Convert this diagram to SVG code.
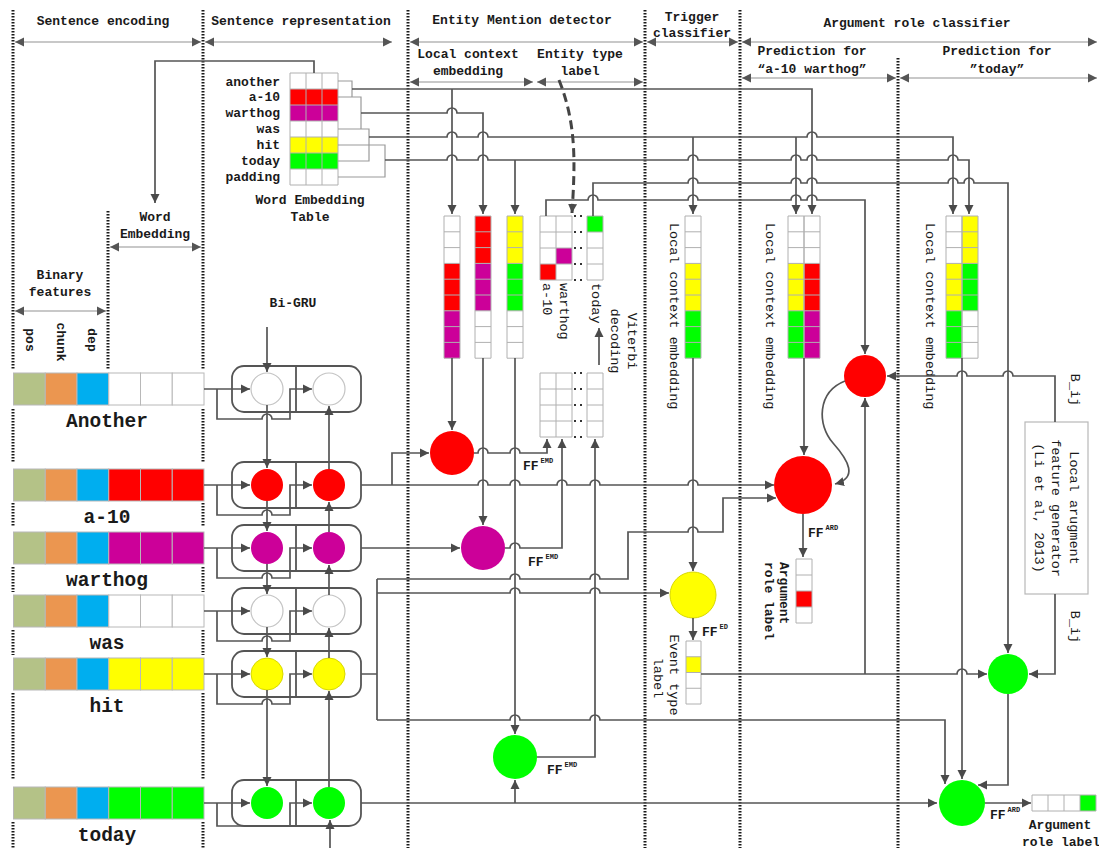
<svg xmlns="http://www.w3.org/2000/svg" width="1099" height="848" viewBox="0 0 1099 848">
<defs>
  <marker id="ah" markerUnits="userSpaceOnUse" markerWidth="10" markerHeight="10" refX="9" refY="5" orient="auto">
    <path d="M0,0.5 L9,5 L0,9.5 Z" fill="#4a4a4a"/>
  </marker>
  <marker id="hh" markerUnits="userSpaceOnUse" markerWidth="10" markerHeight="10" refX="9" refY="5" orient="auto-start-reverse">
    <path d="M0,0.5 L9,5 L0,9.5 Z" fill="#555"/>
  </marker>
  <!-- 9-row column grid, 16 wide -->
  <path id="g9" d="M0,0h16v142.2h-16z M0,15.8h16 M0,31.6h16 M0,47.4h16 M0,63.2h16 M0,79h16 M0,94.8h16 M0,110.6h16 M0,126.4h16"/>
  <!-- 4x2 lattice grid + separate column -->
  <path id="g4" d="M0,0h32v64h-32z M16,0v64 M0,16h32 M0,32h32 M0,48h32 M47,0h16v64h-16z M47,16h16 M47,32h16 M47,48h16"/>
</defs>
<style>
  .t{font-family:"Liberation Mono","DejaVu Sans Mono",monospace;fill:#1a1a1a}
  .h{font-size:13px;font-weight:bold;text-anchor:middle}
  .tl{font-size:13px;font-weight:bold;text-anchor:end}
  .w{font-size:19.5px;font-weight:bold;text-anchor:middle}
  .r{font-size:13.5px;dominant-baseline:central}
  .rb{font-size:13px;font-weight:bold;dominant-baseline:central}
  .m{text-anchor:middle}
  .ff{font-size:13px;font-weight:bold}
  .c{stroke:#555;stroke-width:1.7;fill:none}
  .a{marker-end:url(#ah)}
  .dash{stroke:#444;stroke-width:3;stroke-dasharray:9 5;fill:none}
  .br{stroke:#9a9a9a;stroke-width:1.2;fill:none}
  .dv{stroke:#1a1a1a;stroke-width:3;stroke-dasharray:1.5 1.5;fill:none}
  .hd{stroke:#c8c8c8;stroke-width:2;marker-start:url(#hh);marker-end:url(#hh)}
  .cell{stroke:#b8b8b8;stroke-width:1}
  .grid{stroke:#b0b0b0;stroke-width:1;fill:none}
  .dots{stroke:#333;stroke-width:2;stroke-dasharray:2 4}
  .gru{fill:none;stroke:#555;stroke-width:1.8}
  .wc{fill:#fff;stroke:#c4c4c4;stroke-width:1.2}
</style>

<rect width="1099" height="848" fill="#fff"/>

<!-- section dividers -->
<g id="dividers">
  <path class="dv" d="M13,10V370 M203,10V370 M108,211V370 M408,10V848 M645,10V848 M740,10V848 M898,58V848"/>
  <path class="dv" d="M13,409V463 M203,409V463 M13,503V527 M203,503V527 M13,567V592 M203,567V592 M13,630V655 M203,630V655 M13,693V780 M203,693V780 M13,822V848 M203,822V848"/>
</g>

<!-- section headers -->
<g id="headers">
  <text class="t h" x="103" y="25">Sentence encoding</text>
  <text class="t h" x="301" y="25">Sentence representation</text>
  <text class="t h" x="522" y="24">Entity Mention detector</text>
  <text class="t h" x="692" y="21">Trigger</text>
  <text class="t h" x="692" y="37">classifier</text>
  <text class="t h" x="917" y="27">Argument role classifier</text>
  <text class="t h" x="468" y="58">Local context</text>
  <text class="t h" x="468" y="75">embedding</text>
  <text class="t h" x="580" y="58">Entity type</text>
  <text class="t h" x="580" y="75">label</text>
  <text class="t h" x="812" y="55">Prediction for</text>
  <text class="t h" x="812" y="73">“a-10 warthog”</text>
  <text class="t h" x="997" y="55">Prediction for</text>
  <text class="t h" x="997" y="73">”today”</text>
  <text class="t h" x="155" y="221">Word</text>
  <text class="t h" x="155" y="238">Embedding</text>
  <text class="t h" x="60" y="279">Binary</text>
  <text class="t h" x="60" y="296">features</text>
  <path class="hd" d="M15,42H201"/>
  <path class="hd" d="M205,42H392"/>
  <path class="hd" d="M410,42H643"/>
  <path class="hd" d="M647,42H738"/>
  <path class="hd" d="M742,42H1097"/>
  <path class="hd" d="M410,82H533"/>
  <path class="hd" d="M537,82H643"/>
  <path class="hd" d="M742,78H896"/>
  <path class="hd" d="M900,78H1097"/>
  <path class="hd" d="M110,247H201"/>
  <path class="hd" d="M15,311H106"/>
  <text class="t rb m" transform="translate(29,340) rotate(90)">pos</text>
  <text class="t rb m" transform="translate(60,342) rotate(90)">chunk</text>
  <text class="t rb m" transform="translate(91,340) rotate(90)">dep</text>
</g>

<!-- word embedding table -->
<g id="embedding-table">
  <rect x="290" y="89" width="48" height="16" fill="#ff0000"/>
  <rect x="290" y="105" width="48" height="16" fill="#cc0099"/>
  <rect x="290" y="137" width="48" height="16" fill="#ffff00"/>
  <rect x="290" y="153" width="48" height="16" fill="#00ff00"/>
  <path class="grid" d="M290,73h48v112h-48z M306,73v112 M322,73v112 M290,89h48 M290,105h48 M290,121h48 M290,137h48 M290,153h48 M290,169h48"/>
  <text class="t tl" x="280" y="86">another</text>
  <text class="t tl" x="280" y="101">a-10</text>
  <text class="t tl" x="280" y="117">warthog</text>
  <text class="t tl" x="280" y="133">was</text>
  <text class="t tl" x="280" y="149">hit</text>
  <text class="t tl" x="280" y="165">today</text>
  <text class="t tl" x="280" y="181">padding</text>
  <text class="t h" x="310" y="204">Word Embedding</text>
  <text class="t h" x="310" y="221">Table</text>
  <path class="br" d="M338,81H352V97H338 M338,97H361V129H338 M338,129H369V161H338 M338,145H385V177H338"/>
</g>

<!-- word feature rows -->
<g id="row-another">
  <rect class="cell" x="13.5" y="373" width="31.75" height="32" fill="#b4c287"/>
  <rect class="cell" x="45.25" y="373" width="31.75" height="32" fill="#eb9650"/>
  <rect class="cell" x="77" y="373" width="31.75" height="32" fill="#00aeef"/>
  <rect class="cell" x="108.75" y="373" width="31.75" height="32" fill="#fff"/>
  <rect class="cell" x="140.5" y="373" width="31.75" height="32" fill="#fff"/>
  <rect class="cell" x="172.25" y="373" width="31.75" height="32" fill="#fff"/>
  <text class="t w" x="107" y="427">Another</text>
</g>
<g id="row-a10">
  <rect class="cell" x="13.5" y="469" width="31.75" height="32" fill="#b4c287"/>
  <rect class="cell" x="45.25" y="469" width="31.75" height="32" fill="#eb9650"/>
  <rect class="cell" x="77" y="469" width="31.75" height="32" fill="#00aeef"/>
  <rect class="cell" x="108.75" y="469" width="31.75" height="32" fill="#ff0000"/>
  <rect class="cell" x="140.5" y="469" width="31.75" height="32" fill="#ff0000"/>
  <rect class="cell" x="172.25" y="469" width="31.75" height="32" fill="#ff0000"/>
  <text class="t w" x="107" y="523">a-10</text>
</g>
<g id="row-warthog">
  <rect class="cell" x="13.5" y="532" width="31.75" height="32" fill="#b4c287"/>
  <rect class="cell" x="45.25" y="532" width="31.75" height="32" fill="#eb9650"/>
  <rect class="cell" x="77" y="532" width="31.75" height="32" fill="#00aeef"/>
  <rect class="cell" x="108.75" y="532" width="31.75" height="32" fill="#cc0099"/>
  <rect class="cell" x="140.5" y="532" width="31.75" height="32" fill="#cc0099"/>
  <rect class="cell" x="172.25" y="532" width="31.75" height="32" fill="#cc0099"/>
  <text class="t w" x="107" y="586">warthog</text>
</g>
<g id="row-was">
  <rect class="cell" x="13.5" y="595" width="31.75" height="32" fill="#b4c287"/>
  <rect class="cell" x="45.25" y="595" width="31.75" height="32" fill="#eb9650"/>
  <rect class="cell" x="77" y="595" width="31.75" height="32" fill="#00aeef"/>
  <rect class="cell" x="108.75" y="595" width="31.75" height="32" fill="#fff"/>
  <rect class="cell" x="140.5" y="595" width="31.75" height="32" fill="#fff"/>
  <rect class="cell" x="172.25" y="595" width="31.75" height="32" fill="#fff"/>
  <text class="t w" x="107" y="649">was</text>
</g>
<g id="row-hit">
  <rect class="cell" x="13.5" y="658" width="31.75" height="32" fill="#b4c287"/>
  <rect class="cell" x="45.25" y="658" width="31.75" height="32" fill="#eb9650"/>
  <rect class="cell" x="77" y="658" width="31.75" height="32" fill="#00aeef"/>
  <rect class="cell" x="108.75" y="658" width="31.75" height="32" fill="#ffff00"/>
  <rect class="cell" x="140.5" y="658" width="31.75" height="32" fill="#ffff00"/>
  <rect class="cell" x="172.25" y="658" width="31.75" height="32" fill="#ffff00"/>
  <text class="t w" x="107" y="712">hit</text>
</g>
<g id="row-today">
  <rect class="cell" x="13.5" y="787" width="31.75" height="32" fill="#b4c287"/>
  <rect class="cell" x="45.25" y="787" width="31.75" height="32" fill="#eb9650"/>
  <rect class="cell" x="77" y="787" width="31.75" height="32" fill="#00aeef"/>
  <rect class="cell" x="108.75" y="787" width="31.75" height="32" fill="#00ff00"/>
  <rect class="cell" x="140.5" y="787" width="31.75" height="32" fill="#00ff00"/>
  <rect class="cell" x="172.25" y="787" width="31.75" height="32" fill="#00ff00"/>
  <text class="t w" x="107" y="841">today</text>
</g>

<!-- Bi-GRU blocks -->
<text class="t h" x="293" y="307">Bi-GRU</text>
<g id="gru-another">
  <rect class="gru" x="232" y="366" width="129" height="46" rx="12"/>
  <path class="gru" d="M296,366V412"/>
  <circle class="wc" cx="267" cy="389" r="16"/><circle class="wc" cx="329" cy="389" r="16"/>
</g>
<g id="gru-a10">
  <rect class="gru" x="232" y="462" width="129" height="46" rx="12"/>
  <path class="gru" d="M296,462V508"/>
  <circle cx="267" cy="485" r="16" fill="#ff0000"/><circle cx="329" cy="485" r="16" fill="#ff0000"/>
</g>
<g id="gru-warthog">
  <rect class="gru" x="232" y="525" width="129" height="46" rx="12"/>
  <path class="gru" d="M296,525V571"/>
  <circle cx="267" cy="548" r="16" fill="#cc0099"/><circle cx="329" cy="548" r="16" fill="#cc0099"/>
</g>
<g id="gru-was">
  <rect class="gru" x="232" y="588" width="129" height="46" rx="12"/>
  <path class="gru" d="M296,588V634"/>
  <circle class="wc" cx="267" cy="611" r="16"/><circle class="wc" cx="329" cy="611" r="16"/>
</g>
<g id="gru-hit">
  <rect class="gru" x="232" y="651" width="129" height="46" rx="12"/>
  <path class="gru" d="M296,651V697"/>
  <circle cx="267" cy="674" r="16" fill="#ffff00" stroke="#d8d800"/><circle cx="329" cy="674" r="16" fill="#ffff00" stroke="#d8d800"/>
</g>
<g id="gru-today">
  <rect class="gru" x="232" y="780" width="129" height="46" rx="12"/>
  <path class="gru" d="M296,780V826"/>
  <circle cx="267" cy="803" r="16" fill="#00ff00"/><circle cx="329" cy="803" r="16" fill="#00ff00"/>
</g>

<!-- entity mention detector: local context columns -->
<g id="emd-col-a">
  <rect x="444" y="263.4" width="16" height="47.4" fill="#ff0000"/>
  <rect x="444" y="310.8" width="16" height="47.4" fill="#cc0099"/>
  <use href="#g9" x="444" y="216" class="grid"/>
</g>
<g id="emd-col-b">
  <rect x="475" y="216" width="16" height="47.4" fill="#ff0000"/>
  <rect x="475" y="263.4" width="16" height="47.4" fill="#cc0099"/>
  <use href="#g9" x="475" y="216" class="grid"/>
</g>
<g id="emd-col-c">
  <rect x="507" y="216" width="16" height="47.4" fill="#ffff00"/>
  <rect x="507" y="263.4" width="16" height="47.4" fill="#00ff00"/>
  <use href="#g9" x="507" y="216" class="grid"/>
</g>

<!-- entity type label grid and Viterbi lattice -->
<g id="entity-label">
  <rect x="556" y="248" width="16" height="16" fill="#cc0099"/>
  <rect x="540" y="264" width="16" height="16" fill="#ff0000"/>
  <rect x="587" y="216" width="16" height="16" fill="#00ff00"/>
  <use href="#g4" x="540" y="216" class="grid"/>
  <path class="dots" d="M574,216h12 M574,232h12 M574,248h12 M574,264h12 M574,280h12"/>
  <text class="t r" transform="translate(546,283) rotate(90)">a-10</text>
  <text class="t r" transform="translate(563,283) rotate(90)">warthog</text>
  <text class="t r" transform="translate(595,283) rotate(90)">today</text>
  <text class="t r m" transform="translate(631,341) rotate(90)">Viterbi</text>
  <text class="t r m" transform="translate(614,341) rotate(90)">decoding</text>
</g>
<g id="viterbi-lattice">
  <use href="#g4" x="540" y="373" class="grid"/>
  <path class="dots" d="M574,373h12 M574,389h12 M574,405h12 M574,421h12 M574,437h12"/>
</g>

<!-- entity mention detector nodes -->
<g id="emd-a10"><circle cx="452" cy="453" r="22" fill="#ff0000"/>
  <text class="t ff" x="523" y="470">FF<tspan dx="2" dy="-7" font-size="7">EMD</tspan></text></g>
<g id="emd-warthog"><circle cx="483" cy="548" r="22" fill="#cc0099"/>
  <text class="t ff" x="528" y="566">FF<tspan dx="2" dy="-7" font-size="7">EMD</tspan></text></g>
<g id="emd-today"><circle cx="515" cy="757" r="22" fill="#00ff00"/>
  <text class="t ff" x="547" y="774">FF<tspan dx="2" dy="-7" font-size="7">EMD</tspan></text></g>

<!-- trigger classifier -->
<g id="trigger-col">
  <rect x="685" y="263.4" width="16" height="47.4" fill="#ffff00"/>
  <rect x="685" y="310.8" width="16" height="47.4" fill="#00ff00"/>
  <use href="#g9" x="685" y="216" class="grid"/>
  <text class="t r" transform="translate(673,223) rotate(90)">Local context embedding</text>
</g>
<g id="trigger-node"><circle cx="693" cy="595" r="23" fill="#ffff00" stroke="#d8d800"/>
  <text class="t ff" x="702" y="636">FF<tspan dx="2" dy="-7" font-size="7">ED</tspan></text></g>
<g id="event-label">
  <rect x="686" y="656.75" width="15" height="15.75" fill="#ffff00"/>
  <path class="grid" d="M686,641h15v63h-15z M686,656.75h15 M686,672.5h15 M686,688.25h15"/>
  <text class="t r m" transform="translate(673,675) rotate(90)">Event type</text>
  <text class="t r m" transform="translate(657,678) rotate(90)">label</text>
</g>

<!-- argument role classifier: a-10 warthog -->
<g id="arg-a10-cols">
  <rect x="788" y="263.4" width="16" height="47.4" fill="#ffff00"/>
  <rect x="788" y="310.8" width="16" height="47.4" fill="#00ff00"/>
  <rect x="804" y="263.4" width="16" height="47.4" fill="#ff0000"/>
  <rect x="804" y="310.8" width="16" height="47.4" fill="#cc0099"/>
  <use href="#g9" x="788" y="216" class="grid"/>
  <use href="#g9" x="804" y="216" class="grid"/>
  <text class="t r" transform="translate(769,223) rotate(90)">Local context embedding</text>
</g>
<g id="arg-a10-local"><circle cx="865" cy="376" r="21" fill="#ff0000"/></g>
<g id="arg-a10-node"><circle cx="803" cy="485" r="29" fill="#ff0000"/>
  <text class="t ff" x="808" y="537">FF<tspan dx="2" dy="-7" font-size="7">ARD</tspan></text></g>
<g id="arg-a10-label">
  <rect x="796" y="591" width="16" height="16" fill="#ff0000"/>
  <path class="grid" d="M796,559h16v64h-16z M796,575h16 M796,591h16 M796,607h16"/>
  <text class="t rb" transform="translate(783,562) rotate(90)">Argument</text>
  <text class="t rb" transform="translate(768,562) rotate(90)">role label</text>
</g>

<!-- argument role classifier: today -->
<g id="arg-today-cols">
  <rect x="946" y="263.4" width="16" height="47.4" fill="#ffff00"/>
  <rect x="946" y="310.8" width="16" height="47.4" fill="#00ff00"/>
  <rect x="962" y="216" width="16" height="47.4" fill="#ffff00"/>
  <rect x="962" y="263.4" width="16" height="47.4" fill="#00ff00"/>
  <use href="#g9" x="946" y="216" class="grid"/>
  <use href="#g9" x="962" y="216" class="grid"/>
  <text class="t r" transform="translate(929,223) rotate(90)">Local context embedding</text>
</g>
<g id="feature-generator">
  <rect x="1025" y="422" width="63" height="172" fill="#fff" stroke="#b8b8b8" stroke-width="1.2"/>
  <text class="t r m" transform="translate(1073,508) rotate(90)">Local arugment</text>
  <text class="t r m" transform="translate(1055,508) rotate(90)">feature generator</text>
  <text class="t r m" transform="translate(1038,508) rotate(90)">(Li et al, 2013)</text>
  <text class="t r m" transform="translate(1074,390) rotate(90)">B_ij</text>
  <text class="t r m" transform="translate(1074,627) rotate(90)">B_ij</text>
</g>
<g id="arg-today-local"><circle cx="1008" cy="674" r="20" fill="#00ff00"/></g>
<g id="arg-today-node"><circle cx="962" cy="803" r="23" fill="#00ff00"/>
  <text class="t ff" x="990" y="819">FF<tspan dx="2" dy="-7" font-size="7">ARD</tspan></text></g>
<g id="arg-today-label">
  <rect x="1080" y="795" width="16" height="16" fill="#00ff00"/>
  <path class="grid" d="M1032,795h64v16h-64z M1048,795v16 M1064,795v16 M1080,795v16"/>
  <text class="t h" x="1060" y="829">Argument</text>
  <text class="t h" x="1061" y="846">role label</text>
</g>

<!-- connectors -->
<g id="connectors">
  <!-- embedding lookups -->
  <path class="c a" d="M314,73V61H155V203"/>
  <path class="c a" d="M352,89H812V214"/>
  <path class="c a" d="M452,89V214"/>
  <path class="c a" d="M361,113H447a5 5 0 0 1 10 0H483V214"/>
  <path class="c a" d="M369,137H447a5 5 0 0 1 10 0H478a5 5 0 0 1 10 0H807a5 5 0 0 1 10 0H953V214"/>
  <path class="c a" d="M693,137V214"/>
  <path class="c a" d="M796,137V214"/>
  <path class="c a" d="M385,160H447a5 5 0 0 1 10 0H478a5 5 0 0 1 10 0H688a5 5 0 0 1 10 0H791a5 5 0 0 1 10 0H807a5 5 0 0 1 10 0H948a5 5 0 0 1 10 0H969V214"/>
  <path class="c a" d="M515,160V214"/>
  <path class="c a" d="M593,216V183H688a5 5 0 0 1 10 0H791a5 5 0 0 1 10 0H807a5 5 0 0 1 10 0H948a5 5 0 0 1 10 0H964a5 5 0 0 1 10 0H1008V653"/>
  <path class="c a" d="M546,216V200H588a5 5 0 0 1 10 0H688a5 5 0 0 1 10 0H791a5 5 0 0 1 10 0H807a5 5 0 0 1 10 0H865V354"/>
  <path class="dash a" d="M559,80C577,125 575,165 572,213"/>

  <!-- Bi-GRU wiring -->
  <path class="c a" d="M267,327V372"/>
  <path class="c a" d="M330,848V820"/>
  <path class="c a" d="M204,389H250"/>
  <path class="c a" d="M217,389V419H262a5 5 0 0 1 10 0H290V389H312"/>
  <path class="c a" d="M204,485H250"/>
  <path class="c a" d="M217,485V515H262a5 5 0 0 1 10 0H290V485H312"/>
  <path class="c a" d="M204,548H250"/>
  <path class="c a" d="M217,548V578H262a5 5 0 0 1 10 0H290V548H312"/>
  <path class="c a" d="M204,611H250"/>
  <path class="c a" d="M217,611V641H262a5 5 0 0 1 10 0H290V611H312"/>
  <path class="c a" d="M204,674H250"/>
  <path class="c a" d="M217,674V704H262a5 5 0 0 1 10 0H290V674H312"/>
  <path class="c a" d="M204,803H250"/>
  <path class="c a" d="M217,803V826H290V803H312"/>
  <path class="c a" d="M267,405V468"/>
  <path class="c a" d="M267,501V531"/>
  <path class="c a" d="M267,564V594"/>
  <path class="c a" d="M267,627V657"/>
  <path class="c a" d="M267,690V786"/>
  <path class="c a" d="M329,469V406"/>
  <path class="c a" d="M329,532V502"/>
  <path class="c a" d="M329,595V565"/>
  <path class="c a" d="M329,658V628"/>
  <path class="c a" d="M329,787V691"/>

  <!-- entity mention detector -->
  <path class="c a" d="M392,485V453H429"/>
  <path class="c a" d="M361,485H478a5 5 0 0 1 10 0H510a5 5 0 0 1 10 0H557a5 5 0 0 1 10 0H590a5 5 0 0 1 10 0H688a5 5 0 0 1 10 0H774"/>
  <path class="c a" d="M452,358V430"/>
  <path class="c a" d="M483,358V525"/>
  <path class="c a" d="M515,358V734"/>
  <path class="c a" d="M474,453H478a5 5 0 0 1 10 0H510a5 5 0 0 1 10 0H547V439"/>
  <path class="c a" d="M361,548H460"/>
  <path class="c a" d="M505,548H510a5 5 0 0 1 10 0H562V439"/>
  <path class="c a" d="M537,757H595V439"/>
  <path class="c a" d="M599,365V328"/>

  <!-- trigger word fan-out -->
  <path class="c" d="M361,674H377 M377,579V720"/>
  <path class="c a" d="M377,579H510a5 5 0 0 1 10 0H590a5 5 0 0 1 10 0H628V532H688a5 5 0 0 1 10 0H723V498H776"/>
  <path class="c a" d="M377,593H510a5 5 0 0 1 10 0H590a5 5 0 0 1 10 0H669"/>
  <path class="c a" d="M377,720H510a5 5 0 0 1 10 0H590a5 5 0 0 1 10 0H945V784"/>
  <path class="c a" d="M361,803H937"/>
  <path class="c a" d="M515,803V780"/>

  <!-- trigger classifier -->
  <path class="c a" d="M693,358V571"/>
  <path class="c a" d="M693,618V640"/>
  <path class="c a" d="M701,674H957a5 5 0 0 1 10 0H987"/>
  <path class="c a" d="M865,674V398"/>

  <!-- argument role classifier -->
  <path class="c a" d="M804,358V455"/>
  <path class="c a" d="M803,514V557"/>
  <path class="c a" d="M845,381C817,392 817,425 833,443S858,478 835,484"/>
  <path class="c a" d="M1055,422V376H1013a5 5 0 0 0 -10 0H967a5 5 0 0 0 -10 0H887"/>
  <path class="c a" d="M1055,594V674H1029"/>
  <path class="c a" d="M962,358V779"/>
  <path class="c a" d="M1008,694V785H978"/>
  <path class="c a" d="M985,803H1031"/>
</g>
</svg>
